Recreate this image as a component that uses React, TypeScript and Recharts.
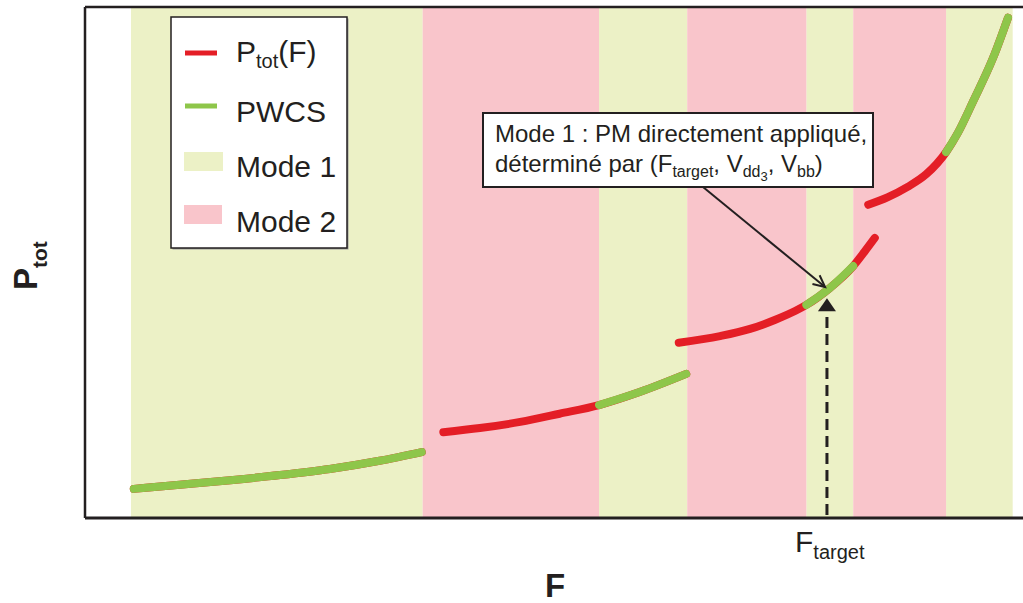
import React from 'react'
import { ComposedChart, Line, XAxis, YAxis, ReferenceArea, ReferenceLine } from 'recharts'

const W = 1023
const H = 603
const MARGIN = { top: 7, right: 0, bottom: 85, left: 85 }

const RED = '#E41E26'
const GREEN = '#8EC64A'
const MODE1_FILL = '#ECF1C6'
const MODE2_FILL = '#F9C5CB'
const INK = '#231F20'
const FONT = "'Liberation Sans', Arial, Helvetica, sans-serif"

// bands along F (arbitrary units, 0..100)
const mode1Bands = [[4.9, 36.0], [54.8, 64.2], [76.9, 81.9], [91.8, 98.9]]
const mode2Bands = [[36.0, 54.8], [64.2, 76.9], [81.9, 91.8]]

// P_tot(F) pieces, one per voltage pair
const seg1F = [5.2, 10.1, 15.5, 20.8, 26.1, 31.4, 35.9]
const seg1P = [5.7, 6.5, 7.4, 8.4, 9.6, 11.2, 12.9]
const seg2F = [38.2, 42.1, 46.4, 50.6, 54.8, 59.2, 64.1]
const seg2P = [16.8, 17.6, 18.8, 20.4, 22.1, 24.7, 28.2]
const seg3F = [63.3, 67.7, 70.9, 73.6, 75.7, 76.9, 79.4, 81.9, 83.1, 84.2]
const seg3P = [34.3, 35.6, 37.0, 38.8, 40.5, 41.7, 45.0, 49.3, 52.1, 54.8]
const seg4F = [83.5, 85.6, 87.7, 89.7, 91.8, 93.1, 94.7, 96.8, 98.4]
const seg4P = [61.3, 62.8, 64.8, 67.3, 71.6, 75.5, 81.6, 90.0, 97.9]

// index ranges of each piece that PWCS follows
const pwcs1 = [0, 6]
const pwcs2 = [4, 6]
const pwcs3 = [5, 7]
const pwcs4 = [4, 8]

const F_TARGET = 79.1
const NOTE_TIP = { F: 78.9, P: 45.2 }
const DASH_TIP_P = 43.0

const toPoints = (fs: number[], ps: number[]) => fs.map((F, i) => ({ F, P: ps[i] }))
const pieces = [
  { pts: toPoints(seg1F, seg1P), pwcs: pwcs1 },
  { pts: toPoints(seg2F, seg2P), pwcs: pwcs2 },
  { pts: toPoints(seg3F, seg3P), pwcs: pwcs3 },
  { pts: toPoints(seg4F, seg4P), pwcs: pwcs4 },
]

const plotW = W - MARGIN.left - MARGIN.right
const plotH = H - MARGIN.top - MARGIN.bottom
const xPx = (f: number) => MARGIN.left + (f / 100) * plotW
const yPx = (p: number) => MARGIN.top + (1 - p / 100) * plotH

function Overlay() {
  const x0 = 703, y0 = 187
  const tx = xPx(NOTE_TIP.F), ty = yPx(NOTE_TIP.P)
  const ang = Math.atan2(ty - y0, tx - x0)
  const head = (da: number) => ({
    x: tx - 13 * Math.cos(ang + da),
    y: ty - 13 * Math.sin(ang + da),
  })
  const h1 = head(0.45), h2 = head(-0.45)
  const dx = xPx(F_TARGET)
  const dTip = yPx(DASH_TIP_P)
  return (
    <svg width={W} height={H} style={{ position: 'absolute', left: 0, top: 0, pointerEvents: 'none' }}
      fontFamily={FONT} fill={INK}>
      {/* legend */}
      <rect x={172.5} y={18.5} width={176} height={231} fill="#9a9a9a" />
      <rect x={171} y={17} width={176} height={231} fill="#fff" stroke={INK} strokeWidth={1.5} />
      <line x1={185} x2={217} y1={53} y2={53} stroke={RED} strokeWidth={5} />
      <text x={236} y={62} fontSize={30}>P<tspan fontSize={20} dy={6}>tot</tspan><tspan dy={-6}>(F)</tspan></text>
      <line x1={185} x2={217} y1={106} y2={106} stroke={GREEN} strokeWidth={5} />
      <text x={236} y={122} fontSize={30}>PWCS</text>
      <rect x={184} y={152} width={39} height={19} fill={MODE1_FILL} />
      <text x={236} y={177} fontSize={30}>Mode 1</text>
      <rect x={184} y={205} width={38} height={19} fill={MODE2_FILL} />
      <text x={236} y={232} fontSize={30}>Mode 2</text>

      {/* annotation */}
      <rect x={483} y={113} width={390} height={74} fill="#fff" stroke={INK} strokeWidth={2} />
      <text x={495} y={142} fontSize={24}>Mode 1 : PM directement appliqué,</text>
      <text x={495} y={172} fontSize={24}>
        déterminé par (F<tspan fontSize={16} dy={5}>target</tspan>
        <tspan fontSize={24} dy={-5}>, V</tspan>
        <tspan fontSize={16} dy={5}>dd</tspan>
        <tspan fontSize={13} dy={4}>3</tspan>
        <tspan fontSize={24} dy={-9}>, V</tspan>
        <tspan fontSize={16} dy={5}>bb</tspan>
        <tspan fontSize={24} dy={-5}>)</tspan>
      </text>
      <line x1={x0} y1={y0} x2={tx} y2={ty} stroke={INK} strokeWidth={2} />
      <polyline points={`${h1.x},${h1.y} ${tx},${ty} ${h2.x},${h2.y}`} fill="none" stroke={INK} strokeWidth={2} />

      {/* F_target marker */}
      <line x1={dx} x2={dx} y1={H - MARGIN.bottom - 3} y2={dTip + 12} stroke={INK} strokeWidth={3} strokeDasharray="11 6" />
      <polygon points={`${dx - 9},${dTip + 13} ${dx + 9},${dTip + 13} ${dx},${dTip}`} fill={INK} />
      <text x={795} y={552} fontSize={30}>F<tspan fontSize={20} dy={7}>target</tspan></text>

      {/* axis titles */}
      <text x={545} y={597} fontSize={33} fontWeight="bold">F</text>
      <text transform="translate(37,290) rotate(-90)" fontSize={33} fontWeight="bold">
        P<tspan fontSize={21} dy={10}>tot</tspan>
      </text>
    </svg>
  )
}

export default function App() {
  return (
    <div style={{ position: 'absolute', left: 0, top: 0, width: W, height: H, background: '#fff' }}>
      <ComposedChart width={W} height={H} margin={MARGIN}>
        <XAxis type="number" dataKey="F" domain={[0, 100]} hide allowDataOverflow />
        <YAxis type="number" dataKey="P" domain={[0, 100]} hide allowDataOverflow />
        {mode1Bands.map(([a, b], i) => (
          <ReferenceArea key={'m1' + i} x1={a} x2={b} y1={0} y2={100} fill={MODE1_FILL} fillOpacity={1} stroke="none" />
        ))}
        {mode2Bands.map(([a, b], i) => (
          <ReferenceArea key={'m2' + i} x1={a} x2={b} y1={0} y2={100} fill={MODE2_FILL} fillOpacity={1} stroke="none" />
        ))}
        <ReferenceLine x={0} stroke={INK} strokeWidth={2.5} />
        <ReferenceLine y={100} stroke={INK} strokeWidth={2.5} />
        <ReferenceLine y={0} stroke={INK} strokeWidth={3} />
        {pieces.map((s, i) => (
          <Line key={'r' + i} data={s.pts} dataKey="P" type="monotone" stroke={RED} strokeWidth={8}
            strokeLinecap="round" dot={false} activeDot={false} isAnimationActive={false} />
        ))}
        {pieces.map((s, i) => (
          <Line key={'g' + i} data={s.pts.slice(s.pwcs[0], s.pwcs[1] + 1)} dataKey="P" type="monotone"
            stroke={GREEN} strokeWidth={8} strokeLinecap="round" dot={false} activeDot={false}
            isAnimationActive={false} />
        ))}
      </ComposedChart>
      <Overlay />
    </div>
  )
}
